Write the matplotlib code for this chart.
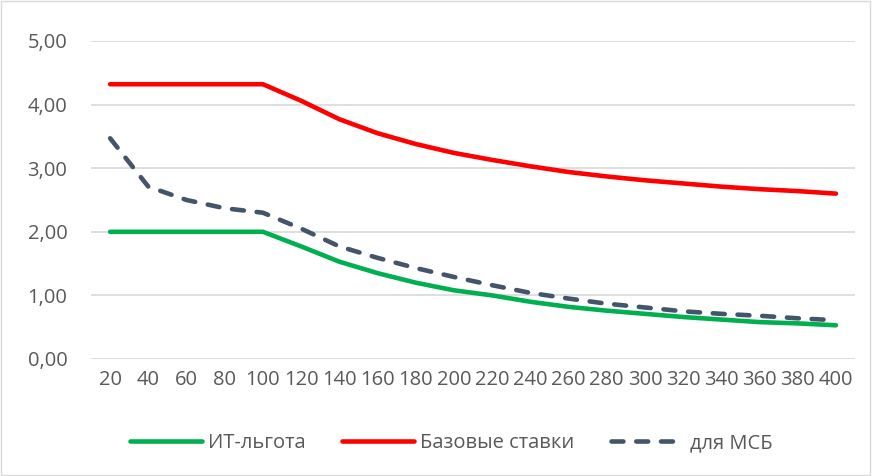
import numpy as np
import matplotlib
matplotlib.use("Agg")
import matplotlib.pyplot as plt
from matplotlib.patches import Rectangle

# --- Données ---
categories = [20, 40, 60, 80, 100, 120, 140, 160, 180, 200,
              220, 240, 260, 280, 300, 320, 340, 360, 380, 400]
it_lgota = [2.00, 2.00, 2.00, 2.00, 2.00, 1.77, 1.53, 1.35, 1.20, 1.08,
            1.00, 0.90, 0.82, 0.76, 0.71, 0.66, 0.62, 0.58, 0.56, 0.53]
bazovye = [4.32, 4.32, 4.32, 4.32, 4.32, 4.06, 3.77, 3.55, 3.38, 3.24,
           3.13, 3.03, 2.94, 2.87, 2.81, 2.76, 2.71, 2.67, 2.64, 2.60]
msb = [3.47, 2.71, 2.50, 2.37, 2.30, 2.05, 1.77, 1.59, 1.43, 1.29,
       1.16, 1.04, 0.95, 0.87, 0.81, 0.75, 0.71, 0.68, 0.64, 0.61]
y_ticks = [0, 1, 2, 3, 4, 5]
y_labels = ["0,00", "1,00", "2,00", "3,00", "4,00", "5,00"]

plt.rcParams["font.family"] = ["Open Sans", "DejaVu Sans"]
texte = "#595959"

fig = plt.figure(figsize=(8.72, 4.76), dpi=100)
ax = fig.add_axes([0.1044, 0.2458, 0.8761, 0.6681])

x = np.arange(len(categories))
ax.plot(x, it_lgota, color="#00B050", lw=3.3, solid_capstyle="round",
        label="ИТ-льгота", zorder=3)
ax.plot(x, bazovye, color="#FF0000", lw=3.3, solid_capstyle="round",
        label="Базовые ставки", zorder=3)
ax.plot(x, msb, color="#44546A", lw=3.3, ls=(0, (2.6, 2.8)),
        dash_capstyle="round", label="для МСБ", zorder=4)

ax.set_xlim(-0.5, len(categories) - 0.5)
ax.set_ylim(0, 5)
ax.set_xticks(x)
ax.set_xticklabels([str(c) for c in categories])
ax.set_yticks(y_ticks)
ax.set_yticklabels(y_labels)
ax.tick_params(axis="both", length=0, labelsize=14.5, colors=texte)
ax.tick_params(axis="x", pad=8)
ax.tick_params(axis="y", pad=17)
ax.grid(axis="y", color="#D9D9D9", lw=1.2)
ax.set_axisbelow(True)
for s in ax.spines.values():
    s.set_visible(False)

leg = ax.legend(loc="center", bbox_to_anchor=(0.517, 0.069),
                bbox_transform=fig.transFigure, ncol=3, frameon=False,
                fontsize=14.5, handlelength=3.6, columnspacing=1.8,
                handletextpad=0.3)
for t in leg.get_texts():
    t.set_color(texte)

# --- Cadre du graphique ---
fig.patches.append(Rectangle((0.001, 0.002), 0.997, 0.995, transform=fig.transFigure,
                             fill=False, edgecolor="#D9D9D9", lw=1))

fig.savefig("out.png", dpi=100)
